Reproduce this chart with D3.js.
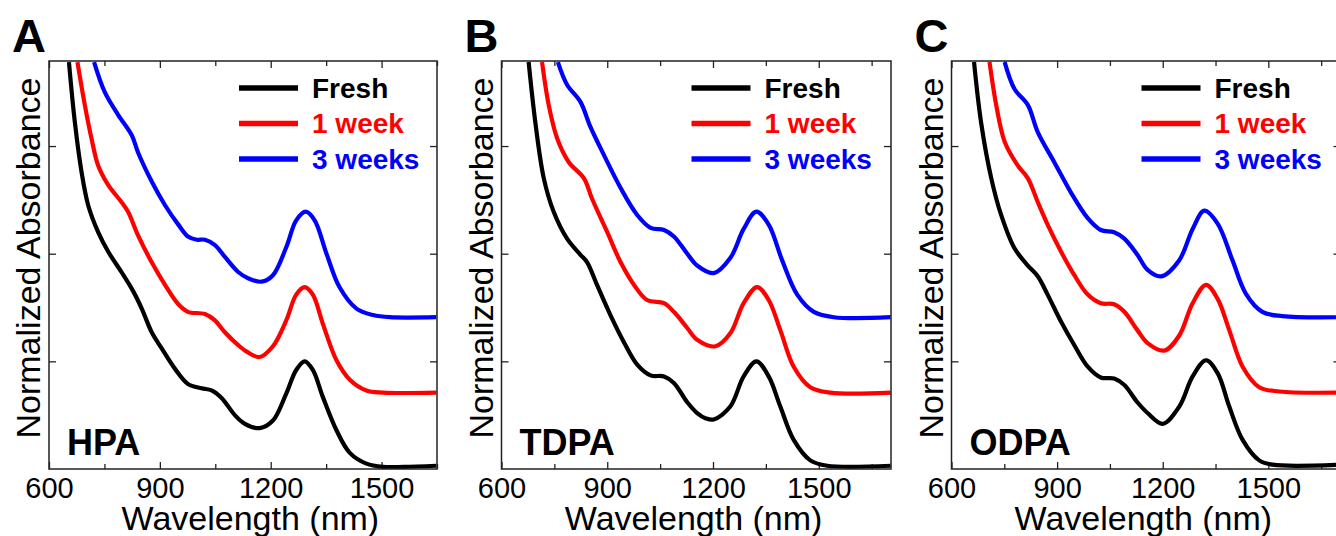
<!DOCTYPE html>
<meta charset="utf-8">
<script src="https://d3js.org/d3.v7.min.js"></script>
<style>
body { margin: 0; background: #fff; }
text { font-family: Arial, "Liberation Sans", sans-serif; }
.axis .domain { display: none; }
.axis line { stroke: #222; stroke-width: 1.3; }
</style>
<body>
<div id="canvas"></div>
<script>

// labels and ticks
var panelLetters = ["A", "B", "C"];
var sampleNames = ["HPA", "TDPA", "ODPA"];
var seriesNames = ["Fresh", "1 week", "3 weeks"];
var seriesColors = ["#000000", "#ff0000", "#0000ff"];
var xTicks = [600, 900, 1200, 1500];
var xMinorTicks = [750, 1050, 1350, 1650];
var yTicks = [1, 2, 3];
var xMin = 600;
var xMax = [1650, 1705, 1705];
var yMax = 3.79;

// spectra: [wavelength nm, normalized absorbance + offset]
var hpaFresh = [[654,3.78],[670,3.22],[688,2.76],[706,2.45],[733,2.20],[760,2.02],[796,1.83],[828,1.65],[851,1.49],[878,1.27],[905,1.12],[941,0.93],[976,0.79],[1013,0.75],[1040,0.73],[1067,0.66],[1103,0.50],[1130,0.42],[1170,0.38],[1206,0.45],[1242,0.70],[1269,0.92],[1292,1.00],[1314,0.92],[1341,0.67],[1378,0.36],[1414,0.15],[1459,0.05],[1504,0.02],[1560,0.02],[1648,0.03]];
var hpaWeek1 = [[677,3.78],[697,3.38],[715,3.07],[733,2.82],[760,2.64],[796,2.48],[814,2.39],[841,2.17],[878,1.92],[914,1.71],[950,1.53],[976,1.46],[1022,1.44],[1049,1.38],[1076,1.27],[1112,1.15],[1135,1.09],[1170,1.04],[1206,1.14],[1242,1.38],[1269,1.62],[1292,1.69],[1314,1.62],[1341,1.35],[1378,1.01],[1414,0.83],[1459,0.73],[1504,0.71],[1648,0.71]];
var hpaWeek3 = [[722,3.78],[751,3.50],[787,3.29],[824,3.10],[841,2.94],[878,2.67],[914,2.45],[950,2.27],[976,2.16],[1000,2.13],[1022,2.13],[1049,2.08],[1076,1.97],[1112,1.83],[1140,1.77],[1175,1.74],[1206,1.80],[1242,2.06],[1269,2.31],[1295,2.39],[1319,2.31],[1351,2.00],[1386,1.69],[1432,1.49],[1477,1.43],[1522,1.41],[1648,1.41]];

var tdpaFresh = [[677,3.78],[696,3.22],[720,2.70],[748,2.39],[786,2.14],[824,1.99],[843,1.92],[871,1.71],[909,1.43],[947,1.18],[985,0.97],[1023,0.87],[1061,0.86],[1089,0.80],[1127,0.62],[1155,0.52],[1180,0.47],[1202,0.46],[1249,0.58],[1287,0.86],[1323,1.00],[1358,0.86],[1391,0.58],[1429,0.27],[1476,0.08],[1524,0.03],[1704,0.03]];
var tdpaWeek1 = [[715,3.78],[734,3.38],[758,3.07],[791,2.85],[834,2.70],[857,2.51],[900,2.20],[938,1.92],[976,1.71],[1013,1.57],[1061,1.54],[1089,1.46],[1127,1.31],[1155,1.20],[1207,1.14],[1249,1.26],[1287,1.54],[1325,1.69],[1358,1.57],[1391,1.29],[1429,0.95],[1476,0.76],[1533,0.71],[1704,0.71]];
var tdpaWeek3 = [[760,3.78],[786,3.57],[824,3.41],[852,3.18],[890,2.92],[938,2.61],[985,2.36],[1023,2.24],[1061,2.22],[1089,2.16],[1127,2.00],[1155,1.89],[1202,1.82],[1249,1.96],[1287,2.23],[1323,2.39],[1358,2.27],[1396,1.94],[1439,1.62],[1486,1.46],[1543,1.41],[1704,1.41]];

var odpaFresh = [[664,3.78],[684,3.22],[713,2.70],[741,2.36],[779,2.05],[817,1.89],[845,1.79],[873,1.62],[911,1.37],[949,1.15],[987,0.95],[1024,0.85],[1062,0.84],[1091,0.78],[1128,0.62],[1157,0.52],[1200,0.42],[1247,0.58],[1285,0.86],[1323,1.01],[1356,0.89],[1389,0.58],[1427,0.27],[1474,0.08],[1512,0.04],[1705,0.04]];
var odpaWeek1 = [[708,3.78],[727,3.38],[751,3.04],[788,2.82],[817,2.70],[845,2.48],[873,2.27],[911,2.02],[949,1.80],[987,1.62],[1024,1.54],[1062,1.53],[1091,1.46],[1128,1.29],[1157,1.17],[1205,1.10],[1247,1.24],[1285,1.54],[1323,1.71],[1356,1.58],[1389,1.29],[1427,0.95],[1474,0.76],[1531,0.72],[1705,0.71]];
var odpaWeek3 = [[751,3.78],[779,3.53],[817,3.38],[845,3.13],[892,2.85],[939,2.57],[987,2.33],[1024,2.22],[1062,2.20],[1091,2.14],[1128,1.99],[1157,1.85],[1196,1.79],[1247,1.94],[1285,2.23],[1318,2.40],[1356,2.28],[1398,1.94],[1436,1.63],[1483,1.46],[1540,1.42],[1705,1.41]];

var spectra = [
    [hpaFresh, hpaWeek1, hpaWeek3],
    [tdpaFresh, tdpaWeek1, tdpaWeek3],
    [odpaFresh, odpaWeek1, odpaWeek3]
];

var width = 1336;
var height = 536;

// posição das molduras de cada painel
var frameLeft = [49, 501.5, 951.5];
var frameRight = [437, 891, 1340.5];
var frameTop = 61;
var frameBottom = 469;

var svg = d3.select("#canvas")
    .append("svg")
    .attr("width", width)
    .attr("height", height)
    .style("display", "block");

panelLetters.forEach(function(letter, i) {
    var x = d3.scaleLinear().domain([xMin, xMax[i]]).range([frameLeft[i], frameRight[i]]);
    var y = d3.scaleLinear().domain([0, yMax]).range([frameBottom, frameTop]);

    var g = svg.append("g");

    g.append("clipPath")
        .attr("id", "clip" + i)
        .append("rect")
        .attr("x", frameLeft[i]).attr("y", frameTop)
        .attr("width", frameRight[i] - frameLeft[i])
        .attr("height", frameBottom - frameTop);

    // ticks pra dentro nos 4 lados
    var bottom = g.append("g").attr("class", "axis")
        .attr("transform", "translate(0," + frameBottom + ")")
        .call(d3.axisBottom(x).tickValues(xTicks).tickSize(-7).tickPadding(8).tickFormat(d3.format("d")));
    bottom.selectAll("text")
        .attr("font-family", "Arial, 'Liberation Sans', sans-serif")
        .attr("font-size", 29)
        .attr("fill", "#000");
    g.append("g").attr("class", "axis")
        .attr("transform", "translate(0," + frameBottom + ")")
        .call(d3.axisBottom(x).tickValues(xMinorTicks).tickSize(-5).tickFormat(""));
    g.append("g").attr("class", "axis")
        .attr("transform", "translate(0," + frameTop + ")")
        .call(d3.axisTop(x).tickValues(xTicks).tickSize(-7).tickFormat(""));
    g.append("g").attr("class", "axis")
        .attr("transform", "translate(0," + frameTop + ")")
        .call(d3.axisTop(x).tickValues(xMinorTicks).tickSize(-5).tickFormat(""));
    g.append("g").attr("class", "axis")
        .attr("transform", "translate(" + frameLeft[i] + ",0)")
        .call(d3.axisLeft(y).tickValues(yTicks).tickSize(-7).tickFormat(""));
    g.append("g").attr("class", "axis")
        .attr("transform", "translate(" + frameRight[i] + ",0)")
        .call(d3.axisRight(y).tickValues(yTicks).tickSize(-7).tickFormat(""));

    // curvas
    var line = d3.line()
        .x(function(d) { return x(d[0]); })
        .y(function(d) { return y(d[1]); })
        .curve(d3.curveCatmullRom.alpha(0.5));

    g.append("g")
        .attr("clip-path", "url(#clip" + i + ")")
        .selectAll("path")
        .data(spectra[i])
        .enter()
        .append("path")
        .attr("d", line)
        .attr("fill", "none")
        .attr("stroke", function(d, k) { return seriesColors[k]; })
        .attr("stroke-width", 4.2)
        .attr("stroke-linejoin", "round");

    // moldura
    g.append("rect")
        .attr("x", frameLeft[i]).attr("y", frameTop)
        .attr("width", frameRight[i] - frameLeft[i])
        .attr("height", frameBottom - frameTop)
        .attr("fill", "none")
        .attr("stroke", "#222")
        .attr("stroke-width", 1.5);

    // legenda
    var legend = g.append("g")
        .attr("transform", "translate(" + (frameLeft[i] + 190) + ",0)");
    seriesNames.forEach(function(name, k) {
        var ly = 88 + k * 35.5;
        legend.append("line")
            .attr("x1", 0).attr("x2", 59)
            .attr("y1", ly).attr("y2", ly)
            .attr("stroke", seriesColors[k])
            .attr("stroke-width", 5.5);
        legend.append("text")
            .attr("x", 73).attr("y", ly + 9.5)
            .attr("font-size", 28)
            .attr("font-weight", "bold")
            .attr("fill", seriesColors[k])
            .text(name);
    });

    // nome da amostra
    g.append("text")
        .attr("x", frameLeft[i] + 18)
        .attr("y", 455)
        .attr("font-size", 36)
        .attr("font-weight", "bold")
        .text(sampleNames[i]);

    // letra do painel
    g.append("text")
        .attr("x", frameLeft[i] - 37)
        .attr("y", 52)
        .attr("font-size", 47)
        .attr("font-weight", "bold")
        .text(letter);

    // titulos dos eixos
    g.append("text")
        .attr("x", x(1145))
        .attr("y", 530)
        .attr("text-anchor", "middle")
        .attr("font-size", 34)
        .text("Wavelength (nm)");

    g.append("text")
        .attr("transform", "translate(" + (frameLeft[i] - 9) + "," + 258 + ") rotate(-90)")
        .attr("text-anchor", "middle")
        .attr("font-size", 34)
        .text("Normalized Absorbance");
});

</script>
</body>
